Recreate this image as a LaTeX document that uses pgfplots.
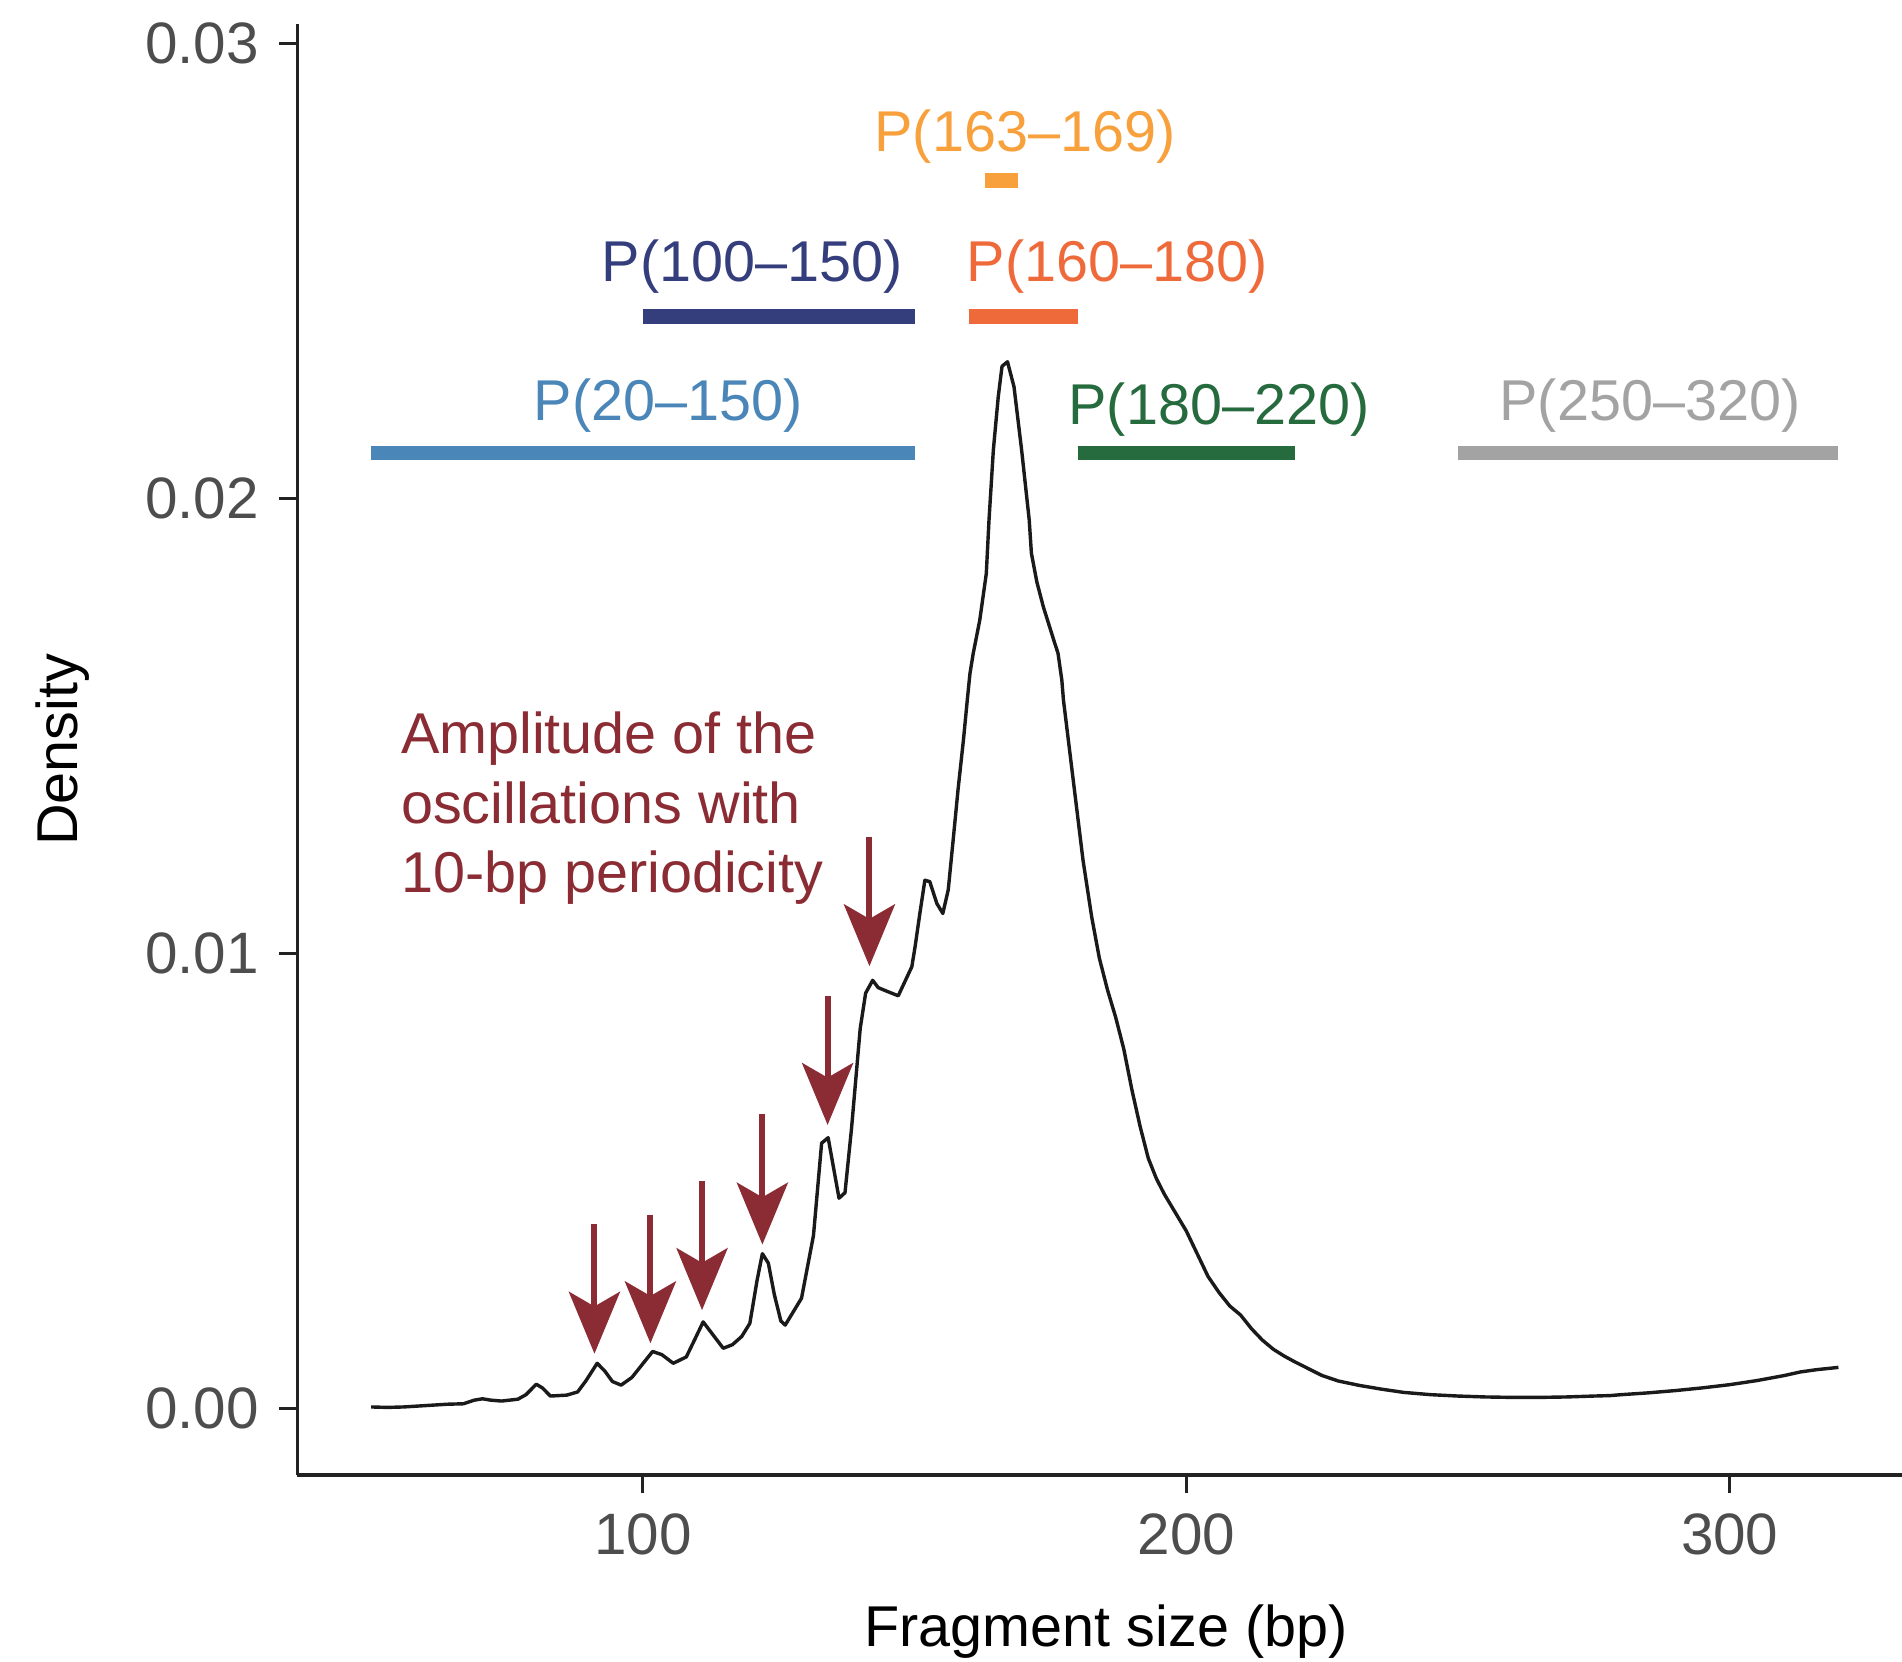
\documentclass[border=0pt]{standalone}
\usepackage{fontspec}
\setmainfont{Liberation Sans}
\usepackage{pgfplots}
\pgfplotsset{compat=1.18}
\usetikzlibrary{arrows.meta}
\definecolor{axisc}{HTML}{222222}
\definecolor{tickc}{HTML}{4D4D4D}
\definecolor{curvec}{HTML}{1A1A1A}
\definecolor{arrc}{HTML}{8B2C34}
\definecolor{cA}{HTML}{4A86B8}
\definecolor{cB}{HTML}{343E7C}
\definecolor{cC}{HTML}{EF6A3B}
\definecolor{cD}{HTML}{F7A03C}
\definecolor{cE}{HTML}{266B3E}
\definecolor{cF}{HTML}{A3A3A3}
\pgfplotstableread{
x y
50 0.00003
53 0.00002
56 0.00003
60 0.00006
64 0.00009
67 0.00010
69 0.00018
70.5 0.00021
72 0.00018
74 0.00016
77 0.00020
78.5 0.00030
80.4 0.00053
81.5 0.00045
83 0.00027
86 0.00029
88 0.00036
89.5 0.00060
91.6 0.00099
93 0.00082
94.4 0.00059
96 0.00051
98 0.00068
100 0.00098
101.8 0.00125
103.5 0.00118
105.6 0.00099
108 0.00113
109.5 0.00150
111.1 0.00190
112.5 0.00168
114.8 0.00132
116.5 0.00140
118.2 0.00158
119.7 0.00187
121 0.00280
122 0.00340
123.1 0.00319
124.2 0.00250
125.4 0.00192
126.2 0.00183
129.2 0.00242
131.4 0.00380
132.9 0.00583
134.1 0.00595
136.1 0.00462
137.2 0.00474
138.4 0.00615
140.0 0.00835
141.0 0.00913
142.3 0.00941
143.3 0.00925
144.9 0.00917
147.0 0.00907
149.5 0.00971
150.1 0.01015
151.0 0.01090
151.9 0.01161
152.8 0.01158
154.1 0.01110
155.2 0.01088
156.2 0.01140
157.1 0.01249
158.0 0.01360
159.0 0.01470
159.7 0.01557
160.2 0.01616
160.8 0.01660
162.0 0.01733
163.2 0.01835
163.7 0.01953
164.5 0.02107
165.4 0.02224
166.1 0.02291
167.1 0.02301
168.3 0.02246
169.7 0.02107
171.1 0.01953
171.5 0.01880
172.5 0.01817
173.7 0.01762
175.8 0.01682
176.4 0.01660
177.1 0.01601
177.4 0.01557
181.0 0.01205
182.6 0.01080
184.0 0.00990
185.5 0.00920
187 0.00860
188.5 0.00790
190 0.00700
191.5 0.00620
193 0.00550
194.5 0.00505
196 0.00470
198 0.00430
200 0.00390
202 0.00340
204 0.00290
206 0.00255
208 0.00225
210 0.00205
212 0.00175
214 0.00150
216 0.00130
218 0.00115
220 0.00102
222 0.00090
225 0.00072
228 0.00060
232 0.00050
236 0.00042
240 0.00035
245 0.00030
250 0.00027
255 0.00025
260 0.00024
265 0.00024
270 0.00025
275 0.00027
278 0.00028
280 0.00030
285 0.00034
290 0.00039
295 0.00045
300 0.00052
305 0.00061
310 0.00072
313 0.00080
316 0.00085
320 0.00090
}\curvedata
\begin{document}
\fontsize{13.5pt}{16.2pt}\selectfont
\begin{tikzpicture}
\useasboundingbox (-2.45cm,-1.54cm) rectangle (13.23cm,12.16cm);
\begin{axis}[
  at={(0,0)}, anchor=south west,
  scale only axis, width=13.23cm, height=11.96cm,
  xmin=36.4, xmax=331.7, ymin=-0.001467, ymax=0.03043,
  axis x line*=bottom, axis y line*=left,
  axis line style={line width=0.75pt, color=axisc},
  tick align=outside, major tick length=0.15cm,
  tick style={line width=0.75pt, color=axisc},
  xtick={100,200,300}, xticklabels={100,200,300},
  ytick={0,0.01,0.02,0.03}, yticklabels={0.00,0.01,0.02,0.03},
  scaled y ticks=false,
  ticklabel style={font=\fontsize{13.7pt}{16pt}\selectfont, color=tickc},
  xlabel={Fragment size (bp)}, ylabel={Density},
  label style={font=\fontsize{13.5pt}{16pt}\selectfont, color=black},
  xlabel style={at={(axis description cs:0.504,-0.1179)}, anchor=base},
  ylabel style={at={(axis description cs:-0.1368,0.5)}, anchor=base},
  clip=false,
]
\addplot[color=curvec, line width=0.8pt, line join=round, no markers] table[x=x,y=y] {\curvedata};

\addplot[color=cA, line width=0.12cm, no markers] coordinates {(50,0.021) (150,0.021)};
\addplot[color=cB, line width=0.12cm, no markers] coordinates {(100,0.024) (150,0.024)};
\addplot[color=cC, line width=0.12cm, no markers] coordinates {(160,0.024) (180,0.024)};
\addplot[color=cD, line width=0.12cm, no markers] coordinates {(163,0.027) (169,0.027)};
\addplot[color=cE, line width=0.12cm, no markers] coordinates {(180,0.021) (220,0.021)};
\addplot[color=cF, line width=0.12cm, no markers] coordinates {(250,0.021) (320,0.021)};

\node[cA, anchor=base] at (axis cs:104.7,0.02172) {P(20\textendash150)};
\node[cB, anchor=base] at (axis cs:120.1,0.02477) {P(100\textendash150)};
\node[cC, anchor=base] at (axis cs:187.3,0.02477) {P(160\textendash180)};
\node[cD, anchor=base] at (axis cs:170.3,0.02763) {P(163\textendash169)};
\node[cE, anchor=base] at (axis cs:206.0,0.02163) {P(180\textendash220)};
\node[cF, anchor=base] at (axis cs:285.3,0.02172) {P(250\textendash320)};

\node[arrc, anchor=base west, inner sep=0pt] at (axis cs:55.36,0.01440) {Amplitude of the};
\node[arrc, anchor=base west, inner sep=0pt] at (axis cs:55.36,0.012853) {oscillations with};
\node[arrc, anchor=base west, inner sep=0pt] at (axis cs:55.36,0.011333) {10-bp periodicity};

\tikzset{amparrow/.style={arrc, line width=0.05cm, -{Stealth[length=0.51cm,width=0.42cm,inset=0.12cm]}}}
\draw[amparrow] (axis cs:91.1,0.00405) -- (axis cs:91.1,0.0012);
\draw[amparrow] (axis cs:101.4,0.00426) -- (axis cs:101.4,0.00143);
\draw[amparrow] (axis cs:110.9,0.00500) -- (axis cs:110.9,0.00216);
\draw[amparrow] (axis cs:122.0,0.00648) -- (axis cs:122.0,0.00360);
\draw[amparrow] (axis cs:134.0,0.00906) -- (axis cs:134.0,0.00623);
\draw[amparrow] (axis cs:141.7,0.01256) -- (axis cs:141.7,0.00972);
\end{axis}
\end{tikzpicture}
\end{document}
